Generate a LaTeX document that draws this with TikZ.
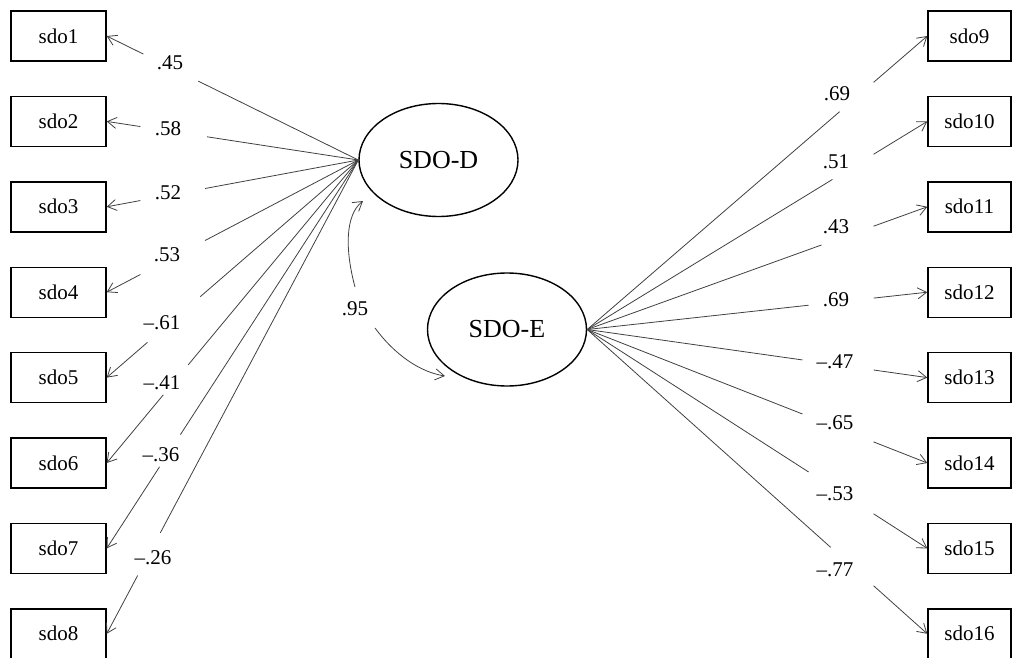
\documentclass[tikz,border=0pt]{standalone}
\usepackage{fontspec}
\setmainfont{Liberation Serif}
\usetikzlibrary{shapes.geometric,arrows.meta,calc}
\begin{document}
\begin{tikzpicture}[x=1pt,y=-1pt,
  obs/.style={draw, line width=1.4pt, minimum width=95pt, minimum height=50pt, inner sep=0pt, font=\fontsize{21}{24}\selectfont},
  obsR/.style={obs, minimum width=83pt},
  lat/.style={draw, ellipse, line width=1.4pt, minimum width=159pt, minimum height=113pt, inner sep=0pt, font=\fontsize{26}{30}\selectfont},
  link/.style={line width=0.8pt, draw=black!75},
  arr/.style={link, -{Straight Barb[length=9pt,width=11pt]}},
  coef/.style={font=\fontsize{21}{24}\selectfont, inner sep=0pt}]
\useasboundingbox (0,0) rectangle (1012,658);
\clip (0,0) rectangle (1012,658);
% latent variables
\node[lat] (D) at (438.5,160) {SDO-D};
\node[lat] (E) at (507,329.5) {SDO-E};
% observed variables
\foreach \i in {1,...,8}{
  \node[obs] (s\i) at (58.5,{36+85.4*(\i-1)}) {sdo\i};
}
\foreach \i in {9,...,16}{
  \node[obsR] (s\i) at (969.5,{36+85.4*(\i-9)}) {sdo\i};
}
% left loadings
\foreach \i/\a/\b in {1/0.636/0.854, 2/0.601/0.866, 3/0.609/0.866, 4/0.609/0.866, 5/0.628/0.838, 6/0.676/0.775, 7/0.707/0.79, 8/0.787/0.877}{
  \draw[link] (D.west) -- ($(D.west)!\a!(s\i.east)$);
  \draw[arr] ($(D.west)!\b!(s\i.east)$) -- (s\i.east);
}
% right loadings
\foreach \i/\a in {9/0.742, 10/0.721, 11/0.689, 12/0.651, 13/0.633, 14/0.633, 15/0.651, 16/0.716}{
  \draw[link] (E.east) -- ($(E.east)!\a!(s\i.west)$);
  \draw[arr] ($(E.east)!0.842!(s\i.west)$) -- (s\i.west);
}
% loading labels
\node[coef] (l1) at (170,63) {.45};
\node[coef] (l2) at (168,129) {.58};
\node[coef] (l3) at (168,193) {.52};
\node[coef] (l4) at (167,255) {.53};
\node[coef] (l5) at (162,323) {–.61};
\node[coef] (l6) at (162,383) {–.41};
\node[coef] (l7) at (161,455) {–.36};
\node[coef] (l8) at (153,558) {–.26};
\node[coef] (l9) at (837,94) {.69};
\node[coef] (l10) at (836,162) {.51};
\node[coef] (l11) at (836,227) {.43};
\node[coef] (l12) at (836,300) {.69};
\node[coef] (l13) at (835,362) {–.47};
\node[coef] (l14) at (835,423) {–.65};
\node[coef] (l15) at (835,494) {–.53};
\node[coef] (l16) at (835,570) {–.77};
% correlation
\coordinate (c1) at (355,287);
\coordinate (c2) at (363,201);
\coordinate (c3) at (375,328);
\coordinate (c4) at (445,376);
\draw[arr] (c1) .. controls (345,250) and (345,215) .. (c2);
\draw[arr] (c3) .. controls (395,355) and (420,372) .. (c4);
\node[coef] (r) at (355,309) {.95};
\end{tikzpicture}
\end{document}
